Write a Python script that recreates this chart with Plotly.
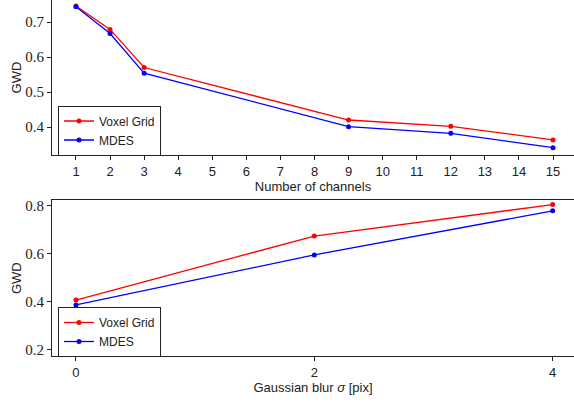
import plotly.graph_objects as go
from plotly.subplots import make_subplots

# number of channels experiment
channels = [1, 2, 3, 9, 12, 15]
voxel_channels = [0.746, 0.679, 0.570, 0.420, 0.402, 0.363]
mdes_channels = [0.744, 0.667, 0.554, 0.401, 0.382, 0.341]

# gaussian blur experiment
sigma = [0, 2, 4]
voxel_blur = [0.405, 0.672, 0.803]
mdes_blur = [0.385, 0.593, 0.777]

RED = "#ff0000"
BLUE = "#0000ff"
SANS = "Liberation Sans"
SERIF = "Liberation Serif"

fig = make_subplots(rows=2, cols=1)

fig.add_trace(go.Scatter(x=channels, y=voxel_channels, mode="lines+markers", name="Voxel Grid",
                         line=dict(color=RED, width=1.3), marker=dict(size=5, color=RED),
                         legend="legend"), row=1, col=1)
fig.add_trace(go.Scatter(x=channels, y=mdes_channels, mode="lines+markers", name="MDES",
                         line=dict(color=BLUE, width=1.3), marker=dict(size=5, color=BLUE),
                         legend="legend"), row=1, col=1)
fig.add_trace(go.Scatter(x=sigma, y=voxel_blur, mode="lines+markers", name="Voxel Grid",
                         line=dict(color=RED, width=1.3), marker=dict(size=5, color=RED),
                         legend="legend2"), row=2, col=1)
fig.add_trace(go.Scatter(x=sigma, y=mdes_blur, mode="lines+markers", name="MDES",
                         line=dict(color=BLUE, width=1.3), marker=dict(size=5, color=BLUE),
                         legend="legend2"), row=2, col=1)

axis_common = dict(showgrid=False, zeroline=False, showline=True, linecolor="#222", linewidth=1.2,
                   ticks="outside", ticklen=4, tickcolor="#222", automargin=False)

# top panel
fig.update_xaxes(axis_common, domain=[0, 1], range=[0.296, 15.616], tickvals=list(range(1, 16)),
                 tickfont=dict(family=SANS, size=13, color="#222"),
                 title=dict(text="Number of channels", font=dict(family=SANS, size=13, color="#222"), standoff=2),
                 row=1, col=1)
fig.update_yaxes(axis_common, domain=[0.5646, 1], range=[0.32, 0.763], tickvals=[0.4, 0.5, 0.6, 0.7],
                 tickformat=".1f", tickfont=dict(family=SERIF, size=15, color="#222"),
                 title=dict(text="GWD", font=dict(family=SANS, size=13, color="#222"), standoff=0),
                 row=1, col=1)

# bottom panel
fig.update_xaxes(axis_common, mirror=True, domain=[0, 1], range=[-0.201, 4.179], tickvals=[0, 2, 4],
                 tickfont=dict(family=SANS, size=13, color="#222"),
                 title=dict(text="Gaussian blur <i>σ</i> [pix]", font=dict(family=SANS, size=13, color="#222"),
                            standoff=1),
                 row=2, col=1)
fig.update_yaxes(axis_common, domain=[0, 0.4374], range=[0.172, 0.821], tickvals=[0.2, 0.4, 0.6, 0.8],
                 tickformat=".1f", tickfont=dict(family=SERIF, size=15, color="#222"),
                 title=dict(text="GWD", font=dict(family=SANS, size=13, color="#222"), standoff=0),
                 row=2, col=1)

legend_style = dict(bgcolor="white", bordercolor="#222", borderwidth=1,
                    font=dict(family=SANS, size=12, color="#222"),
                    xanchor="left", yanchor="middle", tracegroupgap=0, itemwidth=30)

fig.update_layout(
    width=574, height=402,
    margin=dict(l=52, r=0, t=0, b=46),
    plot_bgcolor="white", paper_bgcolor="white",
    legend=dict(legend_style, x=0.0115, y=0.6334),
    legend2=dict(legend_style, x=0.0115, y=0.0674),
)

# drop the default 8px page margin so the figure sits in the window corner
fig.write_html("out.html", config={"displayModeBar": False},
               post_script="document.body.style.margin='0px';")
